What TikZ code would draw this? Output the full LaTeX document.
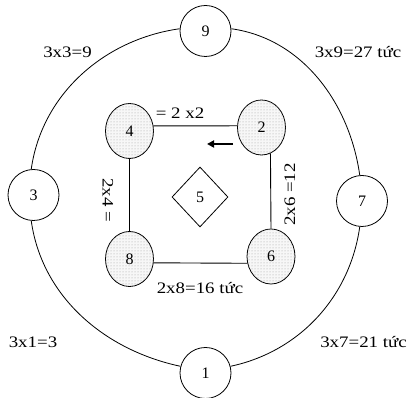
\documentclass[tikz,border=0pt]{standalone}
\usepackage{fontspec}
\setmainfont{Liberation Serif}
\usetikzlibrary{shapes.geometric,patterns,arrows.meta}
\newcommand{\wt}[1]{\fontsize{16}{16}\selectfont\scalebox{1.18}[1]{#1}}
\tikzset{
  outer/.style={circle,draw,line width=0.8pt,fill=white,minimum size=51pt,inner sep=0pt,font=\fontsize{16}{16}\selectfont},
  inner/.style={ellipse,draw,line width=0.8pt,minimum width=48pt,minimum height=55pt,inner sep=0pt,
     fill=gray!6,postaction={pattern=dots,pattern color=gray!75},font=\fontsize{16}{16}\selectfont},
  centre/.style={diamond,draw,line width=0.8pt,minimum width=56pt,minimum height=60pt,inner sep=0pt,font=\fontsize{16}{16}\selectfont},
  lbl/.style={inner sep=0pt},
  ring/.style={line width=0.8pt,looseness=0.95},
  sq/.style={line width=0.9pt}
}
\begin{document}
\begin{tikzpicture}[x=1pt,y=1pt]
\useasboundingbox (0,0) rectangle (413,398);
% outer nodes
\node[outer] (n9) at (205.5,367) {9};
\node[outer] (n1) at (205.5,25) {1};
\node[outer] (n3) at (33.5,203) {3};
\node[outer] (n7) at (362,197) {7};
% ring
\draw[ring] (n9.175) to[out=188,in=82] (n3.95);
\draw[ring] (n3.-95) to[out=-82,in=168] (n1.165);
\draw[ring] (n1.15) to[out=12,in=-98] (n7.-95);
\draw[ring] (n7.95) to[out=98,in=-8] (n9.5);
% inner nodes
\node[inner] (n4) at (129.5,267) {4};
\node[inner] (n2) at (261.5,270.5) {2};
\node[inner] (n8) at (129.5,139) {8};
\node[inner] (n6) at (271,141.5) {6};
\node[centre] (n5) at (200,201) {5};
% square
\draw[sq] (n4.12) -- (n2.176.4);
\draw[sq] (n4.south) -- (n8.north);
\draw[sq] (n2.-71.7) -- (n6.north);
\draw[sq] (n8.-9.6) -- (n6.-164.4);
% arrow
\coordinate (a1) at (233,254);
\coordinate (a2) at (207,254);
\draw[line width=1.8pt,-{Triangle[length=7pt,width=7pt]}] (a1) -- (a2);
% labels
\node[lbl] (l1) at (67.5,346) {\wt{3x3=9}};
\node[lbl] (l2) at (358,346) {\wt{3x9=27 tức}};
\node[lbl] (l3) at (180,285) {\wt{= 2 x2}};
\node[lbl] (l4) at (200,110) {\wt{2x8=16 tức}};
\node[lbl] (l5) at (33,56) {\wt{3x1=3}};
\node[lbl] (l6) at (363.5,56) {\wt{3x7=21 tức}};
\node[lbl,rotate=-90] (l7) at (108,198) {\wt{2x4 =}};
\node[lbl,rotate=90] (l8) at (290,203.5) {\wt{2x6 =12}};
\end{tikzpicture}
\end{document}
